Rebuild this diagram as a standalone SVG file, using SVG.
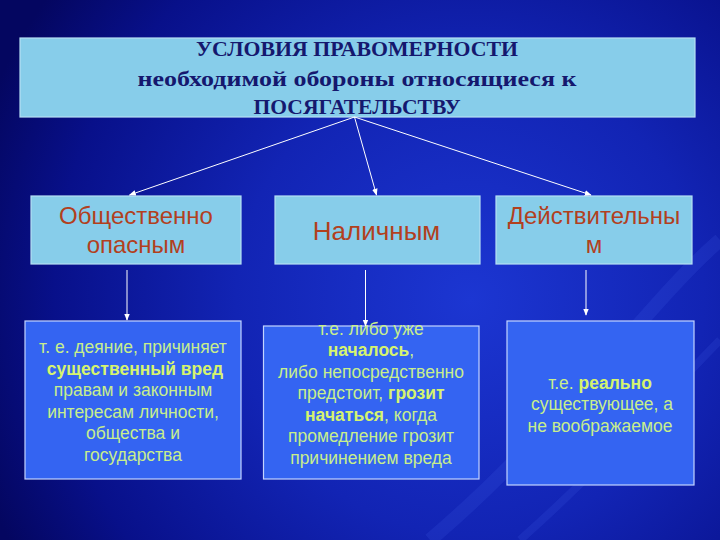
<svg xmlns="http://www.w3.org/2000/svg" width="720" height="540" viewBox="0 0 720 540">
<defs>
  <radialGradient id="bg" cx="470" cy="300" r="520" gradientUnits="userSpaceOnUse">
    <stop offset="0" stop-color="#1c36d2"/>
    <stop offset="0.45" stop-color="#1224b4"/>
    <stop offset="0.8" stop-color="#08108a"/>
    <stop offset="1" stop-color="#040660"/>
  </radialGradient>
  <marker id="ah" viewBox="0 0 10 10" refX="9" refY="5" markerWidth="7" markerHeight="7" orient="auto" markerUnits="userSpaceOnUse">
    <path d="M0,1 L10,5 L0,9 Z" fill="#ffffff"/>
  </marker>
  <style>
    .title{font-family:"Liberation Serif","Times New Roman",serif;font-weight:bold;font-size:22px;fill:#15186e;text-anchor:middle}
    .lbox{fill:#87cdea;stroke:#b6e0f4;stroke-width:1.2}
    .dbox{fill:#3464f2;stroke:#c4d4ff;stroke-width:1.2}
    .mid{font-family:"Liberation Sans",Arial,sans-serif;font-size:24px;fill:#b2401e;text-anchor:middle}
    .low{font-family:"Liberation Sans",Arial,sans-serif;font-size:17.5px;fill:#c8ee8c;text-anchor:middle}
    .b{font-weight:bold;fill:#d6f46e}
    .conn line{stroke:#ffffff;stroke-width:1;marker-end:url(#ah)}
    .streak{fill:none;stroke:#5a78ff;stroke-opacity:0.12}
  </style>
</defs>
<rect x="0" y="0" width="720" height="540" fill="url(#bg)"/>
<g id="background-streaks">
  <path class="streak" stroke-width="14" d="M430,540 C560,430 650,300 720,240"/>
  <path class="streak" stroke-width="8" d="M520,540 C610,460 680,380 720,340"/>
</g>

<g id="title">
  <rect class="lbox" x="20" y="38" width="675" height="79"/>
  <text class="title" x="357" y="56" textLength="322" lengthAdjust="spacingAndGlyphs">УСЛОВИЯ ПРАВОМЕРНОСТИ</text>
  <text class="title" x="357" y="86" textLength="439" lengthAdjust="spacingAndGlyphs">необходимой обороны относящиеся к</text>
  <text class="title" x="357" y="114" textLength="207" lengthAdjust="spacingAndGlyphs">ПОСЯГАТЕЛЬСТВУ</text>
</g>

<g id="node-obshchestvenno">
  <rect class="lbox" x="31" y="196" width="210" height="68"/>
  <text class="mid" x="136" y="224">Общественно</text>
  <text class="mid" x="136" y="253">опасным</text>
</g>
<g id="node-nalichnym">
  <rect class="lbox" x="275" y="196" width="205" height="68"/>
  <text class="mid" x="376.5" y="240" style="font-size:26px">Наличным</text>
</g>
<g id="node-deystvitelnym">
  <rect class="lbox" x="496" y="196" width="196" height="68"/>
  <text class="mid" x="594" y="224">Действительны</text>
  <text class="mid" x="594" y="253">м</text>
</g>

<g id="node-desc1">
  <rect class="dbox" x="25" y="321" width="216" height="158"/>
  <text class="low" x="133" y="353">т. е. деяние, причиняет</text>
  <text class="low" x="135" y="374.5"> <tspan class="b">существенный вред</tspan></text>
  <text class="low" x="133" y="396">правам и законным</text>
  <text class="low" x="133" y="417.5">интересам личности,</text>
  <text class="low" x="133" y="439">общества и</text>
  <text class="low" x="133" y="460.5">государства</text>
</g>
<g id="node-desc2">
  <rect class="dbox" x="263.5" y="326" width="215.5" height="153"/>
  <text class="low" x="371" y="334.5">т.е. либо уже</text>
  <text class="low" x="371" y="356"><tspan class="b">началось</tspan>,</text>
  <text class="low" x="371" y="377.5">либо непосредственно</text>
  <text class="low" x="371" y="399">предстоит, <tspan class="b">грозит</tspan></text>
  <text class="low" x="371" y="421"><tspan class="b">начаться</tspan>, когда</text>
  <text class="low" x="371" y="442">промедление грозит</text>
  <text class="low" x="371" y="463.5">причинением вреда</text>
</g>
<g id="node-desc3">
  <rect class="dbox" x="507" y="321" width="187" height="164"/>
  <text class="low" x="600" y="388.5">т.е. <tspan class="b">реально</tspan></text>
  <text class="low" x="602" y="410"> существующее, а</text>
  <text class="low" x="600" y="431.5">не воображаемое</text>
</g>

<g id="connectors" class="conn">
  <line x1="354.5" y1="117" x2="129.5" y2="195"/>
  <line x1="354.5" y1="117" x2="376.5" y2="195"/>
  <line x1="354.5" y1="117" x2="591" y2="195"/>
  <line x1="127" y1="270" x2="127" y2="320"/>
  <line x1="365.5" y1="270" x2="365.5" y2="326"/>
  <line x1="586" y1="270" x2="586" y2="315"/>
</g>
</svg>
